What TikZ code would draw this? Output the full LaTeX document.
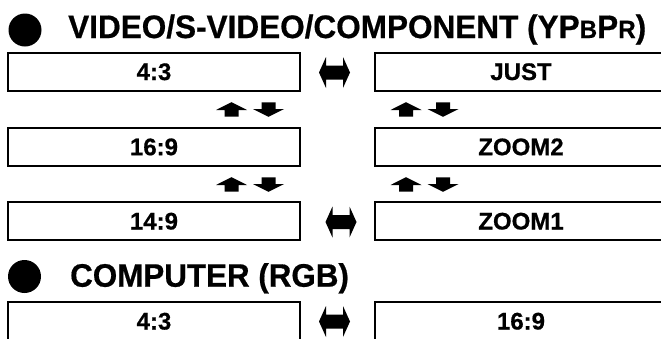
\documentclass[tikz,border=0pt]{standalone}
\usepackage{fontspec}
\setmainfont{Liberation Sans}[BoldFeatures={FakeBold=0.6}]
\usepackage{graphicx}
\newcommand\smallsub[1]{{\fontsize{25}{25}\selectfont #1}}
\tikzset{
  box/.style={draw, line width=2pt, minimum width=292pt, minimum height=38pt,
    inner sep=0pt, font=\fontsize{24}{24}\selectfont\bfseries,
    text height=17pt, text depth=0pt},
  ttl/.style={anchor=base west, inner sep=0pt,
    font=\fontsize{32.5}{32.5}\selectfont\bfseries},
  dot/.style={circle, fill=black, inner sep=0pt, minimum size=33pt},
  pics/uparr/.style={code={\fill (0,-7.3) -- (15.5,0.5) -- (7,0.5) -- (7,7.2)
      -- (-7,7.2) -- (-7,0.5) -- (-15.5,0.5) -- cycle;}},
  pics/downarr/.style={code={\fill (0,7.3) -- (15.5,-0.5) -- (7,-0.5) -- (7,-7.2)
      -- (-7,-7.2) -- (-7,-0.5) -- (-15.5,-0.5) -- cycle;}},
  pics/dblarr/.style={code={\fill (-15.5,0) -- (-8.5,-15.5) -- (-8.5,-7) -- (8.5,-7)
      -- (8.5,-15.5) -- (15.5,0) -- (8.5,15.5) -- (8.5,7) -- (-8.5,7)
      -- (-8.5,15.5) -- cycle;}},
}
\begin{document}
\begin{tikzpicture}[x=1pt,y=-1pt]
  \clip (0,0) rectangle (661,338);
  \fill[white] (0,0) rectangle (661,338);
  % title 1
  \node[dot] (d1) at (25,30) {};
  \node[ttl] (t1) at (68,38) {\scalebox{0.97}[1]{VIDEO/S-VIDEO/COMPONENT (YP\smallsub{B}P\smallsub{R})}};
  % boxes
  \node[box] (a1) at (154,71.5) {4:3};
  \node[box] (b1) at (521,71.5) {JUST};
  \node[box] (a2) at (154,146.7) {16:9};
  \node[box] (b2) at (521,146.7) {ZOOM2};
  \node[box] (a3) at (154,221) {14:9};
  \node[box] (b3) at (521,221) {ZOOM1};
  % arrows
  \pic at (334.5,72.5) {dblarr};
  \pic at (231.5,109.5) {uparr};
  \pic at (268.5,109.5) {downarr};
  \pic at (406,109.5) {uparr};
  \pic at (443,109.5) {downarr};
  \pic at (231.5,184.5) {uparr};
  \pic at (268.5,184.5) {downarr};
  \pic at (406,184.5) {uparr};
  \pic at (443,184.5) {downarr};
  \pic at (341,222) {dblarr};
  % title 2
  \node[dot] (d2) at (24.5,276.5) {};
  \node[ttl] (t2) at (70,286.7) {\scalebox{0.965}[1]{COMPUTER (RGB)}};
  \node[box] (a4) at (154,321) {4:3};
  \node[box] (b4) at (521,321) {16:9};
  \pic at (334.5,321.5) {dblarr};
\end{tikzpicture}
\end{document}
